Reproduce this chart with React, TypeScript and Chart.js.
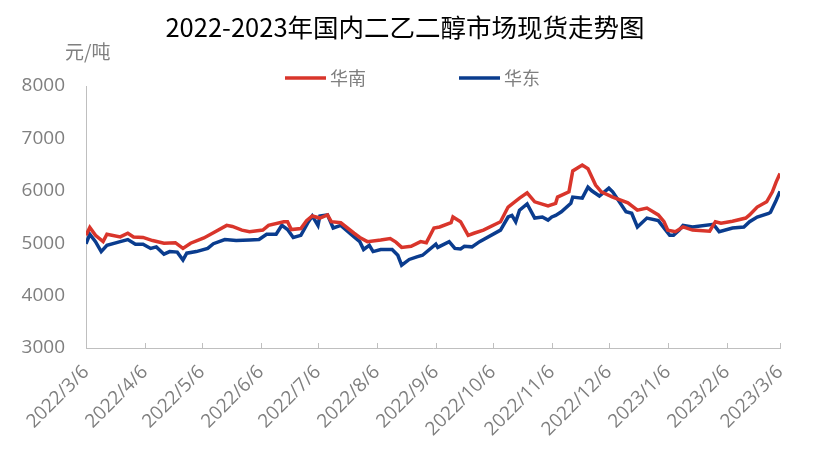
import { useEffect, useRef } from "react";
import { Chart, registerables } from "chart.js";

Chart.register(...registerables);

const TITLE = "2022-2023年国内二乙二醇市场现货走势图";
const UNIT = "元/吨";
const SERIES_NAMES = ["华南", "华东"];
const SERIES_COLORS = ["#D9352B", "#0A3C8E"];
const xTickLabels = [
  "2022/3/6", "2022/4/6", "2022/5/6", "2022/6/6", "2022/7/6", "2022/8/6", "2022/9/6",
  "2022/10/6", "2022/11/6", "2022/12/6", "2023/1/6", "2023/2/6", "2023/3/6",
];
const yTicks = [3000, 4000, 5000, 6000, 7000, 8000];

const southDates = [
  "2022/3/6", "2022/3/8", "2022/3/11", "2022/3/15", "2022/3/17", "2022/3/24", "2022/3/28", "2022/3/31",
  "2022/4/5", "2022/4/10", "2022/4/16", "2022/4/22", "2022/4/26", "2022/4/30",
  "2022/5/7", "2022/5/12", "2022/5/19", "2022/5/22", "2022/5/27", "2022/5/31",
  "2022/6/7", "2022/6/10", "2022/6/18", "2022/6/20", "2022/6/22", "2022/6/27", "2022/6/30",
  "2022/7/3", "2022/7/7", "2022/7/11", "2022/7/13", "2022/7/18", "2022/7/25", "2022/7/28",
  "2022/8/1", "2022/8/8", "2022/8/13", "2022/8/16", "2022/8/19", "2022/8/24", "2022/8/29",
  "2022/9/1", "2022/9/5", "2022/9/8", "2022/9/14", "2022/9/15", "2022/9/19", "2022/9/23", "2022/9/26",
  "2022/10/1", "2022/10/10", "2022/10/14", "2022/10/20", "2022/10/24", "2022/10/28",
  "2022/11/4", "2022/11/8", "2022/11/9", "2022/11/15", "2022/11/17", "2022/11/22", "2022/11/25", "2022/11/29",
  "2022/12/2", "2022/12/8", "2022/12/16", "2022/12/21", "2022/12/26",
  "2023/1/1", "2023/1/4", "2023/1/6", "2023/1/10", "2023/1/14", "2023/1/19", "2023/1/28", "2023/1/31",
  "2023/2/3", "2023/2/9", "2023/2/16", "2023/2/18", "2023/2/22", "2023/2/27",
  "2023/3/2", "2023/3/4", "2023/3/6",
];
const southValues = [
  5150, 5300, 5150, 5030, 5170, 5120, 5190, 5120,
  5110, 5050, 5000, 5010, 4900, 5000,
  5100, 5200, 5340, 5320, 5250, 5220,
  5250, 5340, 5410, 5410, 5260, 5280, 5430,
  5520, 5480, 5540, 5410, 5390, 5190, 5110,
  5030, 5060, 5090, 5020, 4920, 4940, 5030,
  5010, 5290, 5310, 5390, 5500, 5410, 5150, 5190,
  5250, 5410, 5690, 5860, 5960, 5790,
  5710, 5760, 5880, 5980, 6380, 6490, 6420, 6110,
  5980, 5880, 5770, 5630, 5670,
  5540, 5410, 5250, 5220, 5310, 5250, 5230, 5410,
  5380, 5420, 5480, 5540, 5690, 5790,
  5980, 6170, 6330,
];

const eastDates = [
  "2022/3/6", "2022/3/8", "2022/3/11", "2022/3/14", "2022/3/17", "2022/3/24", "2022/3/28",
  "2022/4/1", "2022/4/5", "2022/4/9", "2022/4/12", "2022/4/16", "2022/4/19", "2022/4/23", "2022/4/26", "2022/4/28",
  "2022/5/3", "2022/5/9", "2022/5/12", "2022/5/18", "2022/5/24", "2022/5/31",
  "2022/6/5", "2022/6/9", "2022/6/14", "2022/6/17", "2022/6/20", "2022/6/23", "2022/6/27",
  "2022/7/1", "2022/7/3", "2022/7/6", "2022/7/7", "2022/7/11", "2022/7/14", "2022/7/18", "2022/7/25", "2022/7/28", "2022/7/30",
  "2022/8/2", "2022/8/4", "2022/8/8", "2022/8/14", "2022/8/17", "2022/8/19", "2022/8/23", "2022/8/27", "2022/8/30",
  "2022/9/6", "2022/9/7", "2022/9/13", "2022/9/16", "2022/9/19", "2022/9/21", "2022/9/25", "2022/9/29",
  "2022/10/10", "2022/10/14", "2022/10/16", "2022/10/18", "2022/10/20", "2022/10/24", "2022/10/28",
  "2022/11/1", "2022/11/4", "2022/11/6", "2022/11/8", "2022/11/11", "2022/11/16", "2022/11/17", "2022/11/22", "2022/11/25", "2022/11/27",
  "2022/12/1", "2022/12/6", "2022/12/8", "2022/12/15", "2022/12/18", "2022/12/21", "2022/12/26",
  "2023/1/1", "2023/1/7", "2023/1/9", "2023/1/12", "2023/1/14", "2023/1/19", "2023/1/30",
  "2023/2/2", "2023/2/9", "2023/2/15", "2023/2/18", "2023/2/22", "2023/2/28",
  "2023/3/1", "2023/3/4", "2023/3/6",
];
const eastValues = [
  4990, 5170, 5030, 4840, 4960, 5030, 5070,
  4980, 4980, 4900, 4930, 4790, 4840, 4830, 4680, 4810,
  4840, 4900, 4990, 5070, 5050, 5060,
  5070, 5170, 5170, 5340, 5260, 5110, 5150,
  5410, 5520, 5340, 5520, 5540, 5290, 5340, 5120, 5030, 4880,
  4960, 4840, 4880, 4880, 4770, 4580, 4690, 4740, 4770,
  4980, 4920, 5030, 4900, 4890, 4940, 4930, 5030,
  5250, 5500, 5530, 5410, 5630, 5750, 5480,
  5500, 5440, 5500, 5530, 5600, 5760, 5880, 5860, 6070, 6000,
  5900, 6050, 5980, 5600, 5570, 5310, 5480,
  5430, 5150, 5150, 5250, 5340, 5310, 5360,
  5220, 5290, 5310, 5410, 5500, 5570,
  5590, 5820, 5990,
];

function dayIndex(s: string): number {
  const [y, m, d] = s.split("/").map(Number);
  return Math.round((Date.UTC(y, m - 1, d) - Date.UTC(2022, 2, 6)) / 86400000);
}

const NUM_FONT = "'Open Sans', 'Noto Sans', sans-serif";
const CJK_FONT = "'Noto Sans CJK SC', 'Noto Sans', sans-serif";
const GREY = "#7F7F7F";
const AXIS = "#BFBFBF";

const innerTicks = {
  id: "innerTicks",
  afterDatasetsDraw(chart: any) {
    const xs = chart.scales.x;
    const ctx = chart.ctx;
    ctx.save();
    ctx.strokeStyle = AXIS;
    ctx.lineWidth = 1;
    xs.ticks.forEach((t: any) => {
      const px = Math.round(xs.getPixelForValue(t.value)) + 0.5;
      ctx.beginPath();
      ctx.moveTo(px, xs.top);
      ctx.lineTo(px, xs.top - 5);
      ctx.stroke();
    });
    ctx.restore();
  },
};

const header = {
  id: "header",
  afterDraw(chart: any) {
    const ctx = chart.ctx;
    ctx.save();
    ctx.fillStyle = "#000000";
    ctx.font = `25.5px ${CJK_FONT}`;
    ctx.textAlign = "center";
    ctx.textBaseline = "middle";
    ctx.fillText(TITLE, 405, 27);

    ctx.fillStyle = GREY;
    ctx.font = `19px ${CJK_FONT}`;
    ctx.textAlign = "left";
    ctx.fillText(UNIT, 65, 52);

    const starts = [285, 459];
    chart.data.datasets.forEach((ds: any, i: number) => {
      const x0 = starts[i];
      const y = 78;
      ctx.strokeStyle = ds.borderColor;
      ctx.lineWidth = 3.5;
      ctx.beginPath();
      ctx.moveTo(x0, y);
      ctx.lineTo(x0 + 41, y);
      ctx.stroke();
      ctx.fillStyle = GREY;
      ctx.font = `18px ${CJK_FONT}`;
      ctx.textAlign = "left";
      ctx.textBaseline = "middle";
      ctx.fillText(ds.label, x0 + 45, y);
    });
    ctx.restore();
  },
};

export default function App() {
  const ref = useRef<HTMLCanvasElement>(null);

  useEffect(() => {
    document.body.style.margin = "0";
    if (!ref.current) return;
    const chart = new Chart(ref.current, {
      type: "line",
      data: {
        datasets: [
          {
            label: SERIES_NAMES[0],
            data: southDates.map((d, i) => ({ x: dayIndex(d), y: southValues[i] })),
            borderColor: SERIES_COLORS[0],
            backgroundColor: SERIES_COLORS[0],
            borderWidth: 3.5,
            pointRadius: 0,
            tension: 0,
            fill: false,
          },
          {
            label: SERIES_NAMES[1],
            data: eastDates.map((d, i) => ({ x: dayIndex(d), y: eastValues[i] })),
            borderColor: SERIES_COLORS[1],
            backgroundColor: SERIES_COLORS[1],
            borderWidth: 3.5,
            pointRadius: 0,
            tension: 0,
            fill: false,
          },
        ],
      },
      options: {
        responsive: false,
        animation: false,
        layout: { padding: { top: 86, right: 35, left: 0, bottom: 0 } },
        plugins: {
          legend: { display: false },
          title: { display: false },
          tooltip: { enabled: false },
        },
        scales: {
          x: {
            type: "linear",
            min: 0,
            max: 365,
            afterBuildTicks: (s: any) => {
              s.ticks = xTickLabels.map((l) => ({ value: dayIndex(l) }));
            },
            afterFit: (s: any) => {
              s.height = 113;
            },
            ticks: {
              autoSkip: false,
              maxRotation: 45,
              minRotation: 45,
              padding: 13,
              color: GREY,
              font: { family: NUM_FONT, size: 19 },
              callback: (_v: any, i: number) => xTickLabels[i],
            },
            grid: { display: true, drawOnChartArea: false, drawTicks: false },
            border: { color: AXIS, width: 1 },
          },
          y: {
            min: 3000,
            max: 8000,
            afterBuildTicks: (s: any) => {
              s.ticks = yTicks.map((v) => ({ value: v }));
            },
            afterFit: (s: any) => {
              s.width = 86;
            },
            ticks: {
              padding: 21,
              color: GREY,
              font: { family: NUM_FONT, size: 19 },
              callback: (v: any) => String(v),
            },
            grid: { display: true, drawOnChartArea: false, drawTicks: false },
            border: { color: AXIS, width: 1 },
          },
        },
      },
      plugins: [innerTicks, header],
    });
    return () => chart.destroy();
  }, []);

  return (
    <div style={{ width: 815, height: 461 }}>
      <canvas ref={ref} width={815} height={461} />
    </div>
  );
}
